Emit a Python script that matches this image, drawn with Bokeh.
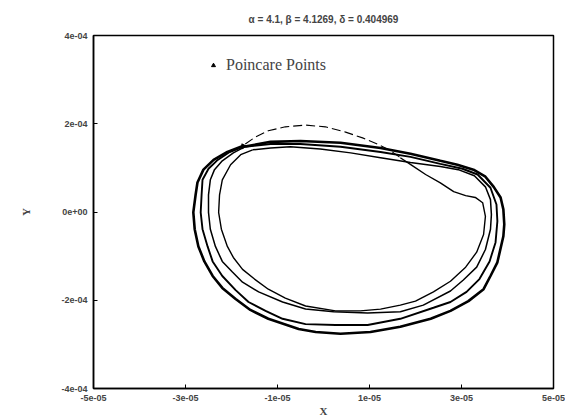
import numpy as np
from bokeh.plotting import figure
from bokeh.models import FixedTicker, Legend, LegendItem, Range1d
from bokeh.embed import file_html
from bokeh.resources import INLINE

# x values in units of 1e-5, y values in units of 1e-4
XS = 1e-5
YS = 1e-4

# initial (broken) transient arc
transient_x = [-1.70, -1.48, -1.20, -0.83, -0.39, 0.04, 0.48, 0.85, 1.17, 1.46, 1.67]
transient_y = [1.54, 1.70, 1.84, 1.93, 1.97, 1.93, 1.81, 1.68, 1.54, 1.39, 1.23]

loop1_x = [1.67, 1.93, 2.22, 2.54, 2.83, 3.09, 3.30, 3.46, 3.52, 3.48, 3.33, 3.09, 2.76, 2.39,
           2.00, 1.67, 1.24, 0.80, 0.26, -0.39, -0.83, -1.20, -1.50, -1.76, -1.96, -2.09, -2.22,
           -2.28, -2.26, -2.20, -2.02, -1.80, -1.54]
loop1_y = [1.23, 1.05, 0.85, 0.66, 0.46, 0.37, 0.33, 0.21, -0.10, -0.51, -0.91, -1.25, -1.57, -1.81,
           -2.02, -2.11, -2.20, -2.24, -2.24, -2.13, -1.95, -1.75, -1.52, -1.30, -1.03, -0.78, -0.39,
           -0.01, 0.39, 0.73, 1.07, 1.30, 1.41]

loop2_x = [-1.15, -0.72, -0.07, 0.59, 1.24, 1.89, 2.54, 2.93, 3.28, 3.52, 3.63, 3.65, 3.63, 3.52,
           3.33, 3.04, 2.76, 2.17, 1.67, 0.96, 0.22, -0.39, -0.89, -1.41, -1.76, -1.98, -2.20,
           -2.35, -2.46, -2.50, -2.50, -2.46, -2.37, -2.20, -1.96, -1.70]
loop2_y = [1.45, 1.48, 1.43, 1.34, 1.23, 1.12, 1.03, 0.96, 0.82, 0.57, 0.28, -0.06, -0.39, -0.85,
           -1.25, -1.54, -1.79, -2.11, -2.26, -2.29, -2.26, -2.20, -2.04, -1.81, -1.59, -1.36, -1.12,
           -0.78, -0.39, -0.01, 0.39, 0.73, 0.96, 1.16, 1.34, 1.48]

loop3_x = [-1.15, -0.50, 0.37, 1.24, 1.89, 2.54, 3.02, 3.35, 3.63, 3.76, 3.78, 3.74, 3.61, 3.39,
           3.11, 2.76, 2.39, 1.67, 0.96, 0.26, -0.39, -0.89, -1.26, -1.63, -1.91, -2.20, -2.41,
           -2.52, -2.63, -2.67, -2.65, -2.63, -2.50, -2.30, -2.04, -1.74]
loop3_y = [1.54, 1.54, 1.48, 1.36, 1.25, 1.09, 0.98, 0.85, 0.55, 0.17, -0.21, -0.69, -1.12, -1.52,
           -1.81, -2.04, -2.17, -2.42, -2.56, -2.56, -2.54, -2.42, -2.24, -2.04, -1.77, -1.45, -1.12,
           -0.78, -0.39, -0.01, 0.39, 0.73, 0.98, 1.18, 1.36, 1.48]

loop4_x = [-1.15, -0.50, 0.37, 1.24, 1.89, 2.54, 2.91, 3.26, 3.52, 3.70, 3.85, 3.91, 3.93, 3.91,
           3.78, 3.63, 3.48, 3.15, 2.76, 2.33, 1.67, 1.02, 0.37, -0.17, -0.54, -1.20, -1.59, -1.91,
           -2.20, -2.41, -2.59, -2.72, -2.80, -2.83, -2.78, -2.74, -2.61, -2.39, -2.09, -1.74]
loop4_y = [1.59, 1.61, 1.57, 1.45, 1.32, 1.16, 1.07, 0.96, 0.80, 0.57, 0.33, 0.06, -0.28, -0.55,
           -1.14, -1.45, -1.75, -2.02, -2.24, -2.42, -2.60, -2.72, -2.76, -2.72, -2.65, -2.42, -2.22,
           -1.97, -1.72, -1.45, -1.12, -0.78, -0.39, -0.01, 0.39, 0.67, 0.96, 1.18, 1.36, 1.50]

poincare_x = [-1.74]
poincare_y = [1.49]

x_ticks = [-5, -3, -1, 1, 3, 5]
x_tick_labels = ["-5e-05", "-3e-05", "-1e-05", "1e-05", "3e-05", "5e-05"]
y_ticks = [-4, -2, 0, 2, 4]
y_tick_labels = ["-4e-04", "-2e-04", "0e+00", "2e-04", "4e-04"]

title_text = "\u03b1 = 4.1, \u03b2 = 4.1269, \u03b4 = 0.404969"

p = figure(width=565, height=419, output_backend="svg", toolbar_location=None,
           x_range=Range1d(-5 * XS, 5 * XS), y_range=Range1d(-4 * YS, 4 * YS),
           min_border_left=93, min_border_right=12, min_border_top=35, min_border_bottom=29,
           title=title_text)

p.title.align = "center"
p.title.text_font = "Liberation Sans"
p.title.text_font_size = "10px"
p.title.text_font_style = "bold"
p.title.standoff = 21

p.grid.visible = False
p.outline_line_color = "black"
p.outline_line_width = 1.5
p.background_fill_color = "white"
p.border_fill_color = "white"

p.xaxis.ticker = FixedTicker(ticks=[t * XS for t in x_ticks])
p.xaxis.major_label_overrides = {t * XS: l for t, l in zip(x_ticks, x_tick_labels)}
p.yaxis.ticker = FixedTicker(ticks=[t * YS for t in y_ticks])
p.yaxis.major_label_overrides = {t * YS: l for t, l in zip(y_ticks, y_tick_labels)}

for ax in (p.xaxis, p.yaxis):
    ax.axis_line_color = "black"
    ax.axis_line_width = 1.5
    ax.major_tick_in = 4
    ax.major_tick_out = 0
    ax.minor_tick_line_color = None
    ax.major_tick_line_color = "black"
    ax.major_label_text_font = "Liberation Sans"
    ax.major_label_text_font_size = "9px"
    ax.major_label_text_font_style = "bold"
    ax.major_label_standoff = 6
    ax.axis_label_text_font = "Liberation Serif"
    ax.axis_label_text_font_size = "11px"
    ax.axis_label_text_font_style = "bold"
    ax.axis_label_standoff = 1

p.xaxis.axis_label = "X"
p.yaxis.axis_label = "Y"
p.yaxis.axis_label_standoff = 26

def sx(a):
    return np.array(a) * XS

def sy(a):
    return np.array(a) * YS

p.line(sx(transient_x), sy(transient_y), line_color="black", line_width=1.1, line_dash="9 4")

prev_x, prev_y = loop1_x[-1], loop1_y[-1]
p.line(sx(loop1_x), sy(loop1_y), line_color="black", line_width=1.4)
p.line(sx([prev_x] + loop2_x), sy([prev_y] + loop2_y), line_color="black", line_width=1.5)
p.line(sx([loop2_x[-1]] + loop3_x), sy([loop2_y[-1]] + loop3_y), line_color="black", line_width=1.9)
p.line(sx([loop3_x[-1]] + loop4_x), sy([loop3_y[-1]] + loop4_y), line_color="black", line_width=2.6)

pts = p.scatter(sx(poincare_x), sy(poincare_y), marker="triangle", size=5, angle=0.6,
                color="black")

legend = Legend(items=[LegendItem(label="Poincare Points", renderers=[pts])],
                location=(115, 314), border_line_color=None, background_fill_alpha=0,
                label_text_font="Liberation Serif", label_text_font_size="16px",
                glyph_width=10, glyph_height=10, label_standoff=8, padding=0, margin=0,
                spacing=0)
p.add_layout(legend)

open("out.html", "w").write(file_html(p, INLINE))
